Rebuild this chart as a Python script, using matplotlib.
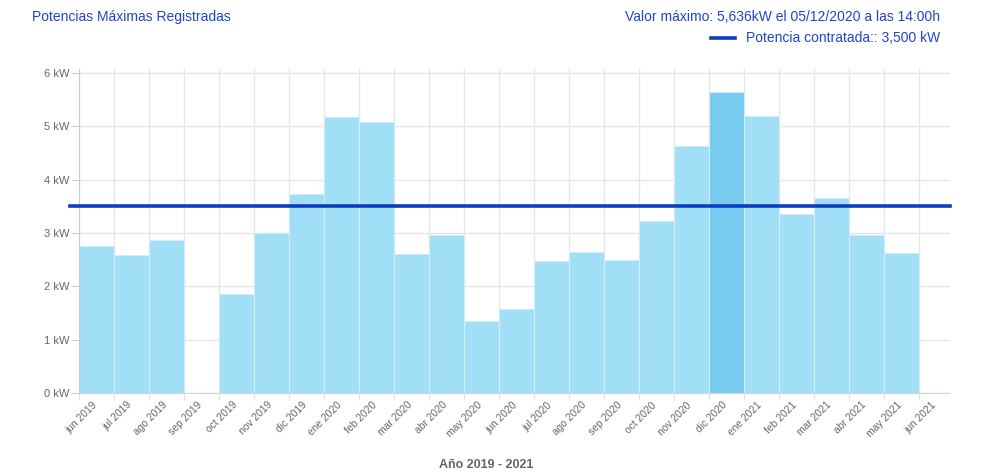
import matplotlib.pyplot as plt
import matplotlib.transforms as mtransforms
import numpy as np

plt.rcParams['font.family'] = ['Liberation Sans', 'DejaVu Sans']

# data
months = ['jun 2019', 'jul 2019', 'ago 2019', 'sep 2019', 'oct 2019', 'nov 2019',
          'dic 2019', 'ene 2020', 'feb 2020', 'mar 2020', 'abr 2020', 'may 2020',
          'jun 2020', 'jul 2020', 'ago 2020', 'sep 2020', 'oct 2020', 'nov 2020',
          'dic 2020', 'ene 2021', 'feb 2021', 'mar 2021', 'abr 2021', 'may 2021',
          'jun 2021']
max_kw = [2.75, 2.58, 2.87, np.nan, 1.85, 3.00,
          3.73, 5.17, 5.08, 2.61, 2.96, 1.35,
          1.57, 2.47, 2.64, 2.49, 3.22, 4.64,
          5.636, 5.19, 3.35, 3.65, 2.97, 2.62]
contracted = 3.5
yticks = [0, 1, 2, 3, 4, 5, 6]

title_txt = 'Potencias Máximas Registradas'
max_txt = 'Valor máximo: 5,636kW el 05/12/2020 a las 14:00h'
line_txt = 'Potencia contratada:: 3,500 kW'
xlabel_txt = 'Año 2019 - 2021'

blue_txt = '#1f45c8'
bar_col = '#a0dff5'
bar_hi = '#77cbef'
line_col = '#0b3fbf'
grey = '#666666'

fig = plt.figure(figsize=(9.95, 4.75), dpi=100)
ax = fig.add_axes([79/995, 82/475, 871/995, 324/475])

vals = np.array(max_kw)
colors = [bar_col] * len(vals)
colors[int(np.nanargmax(vals))] = bar_hi
x = np.arange(len(vals))
ax.bar(x, np.nan_to_num(vals), width=1.0, align='edge', color=colors,
       edgecolor='#d4ecf7', linewidth=0.8, zorder=2)

ax.axhline(contracted, xmin=-0.0105, xmax=1, color=line_col, lw=2.6,
           clip_on=False, zorder=3)

ax.set_xlim(0, 24.9)
ax.set_ylim(0, 6.075)
ax.set_xticks(np.arange(len(months)))
ax.set_xticklabels(months, rotation=45, ha='right', va='top',
                   rotation_mode='anchor', fontsize=7.4, color=grey)
ax.set_yticks(yticks)
ax.set_yticklabels(['{} kW'.format(t) for t in yticks], fontsize=8, color=grey)

ax.grid(True, color='#e6e6e6', lw=1, zorder=0)
ax.set_axisbelow(True)
ax.tick_params(axis='x', length=5, pad=0, color='#e0e0e0')
ax.tick_params(axis='y', length=6, pad=1, color='#cccccc')
ax.spines['top'].set_visible(False)
ax.spines['right'].set_visible(False)
ax.spines['left'].set_color('#cccccc')
ax.spines['bottom'].set_color('#ccd6eb')

# shift rotated labels right, after tick_params (it resets transforms)
offset = mtransforms.ScaledTranslation(0.13, 0, fig.dpi_scale_trans)
for lab in ax.get_xticklabels():
    lab.set_transform(lab.get_transform() + offset)

fig.text(32/995, 1 - 17/475, title_txt, fontsize=10, color=blue_txt, va='center')
fig.text(940/995, 1 - 17/475, max_txt, fontsize=10, color=blue_txt,
         va='center', ha='right')
fig.text(940/995, 1 - 38/475, line_txt, fontsize=10, color=blue_txt,
         va='center', ha='right')
fig.lines.append(plt.Line2D([711/995, 735/995], [1 - 38/475, 1 - 38/475],
                            transform=fig.transFigure, color=line_col, lw=2.6))
fig.text(486/995, 1 - 465/475, xlabel_txt, fontsize=9, color=grey,
         fontweight='bold', ha='center', va='center')

fig.savefig('out.png', dpi=100)
